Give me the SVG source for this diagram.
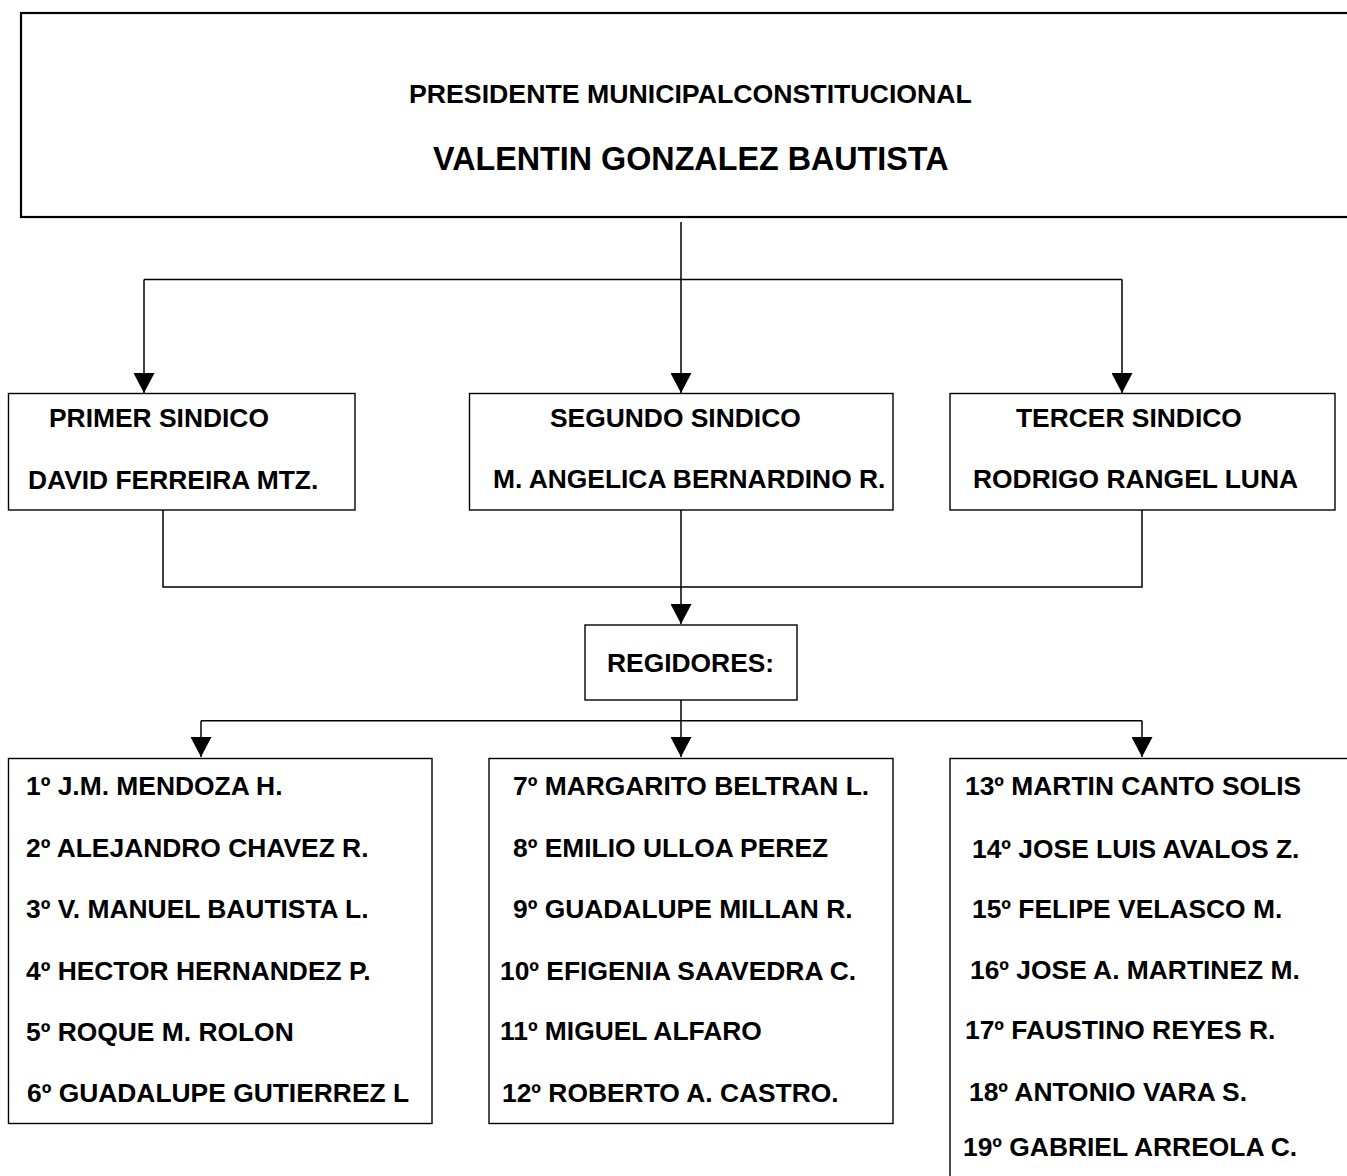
<svg xmlns="http://www.w3.org/2000/svg" width="1347" height="1176" viewBox="0 0 1347 1176">
<style>
.box{fill:#fff;stroke:#000;stroke-width:1.4}
.top{fill:#fff;stroke:#000;stroke-width:2.2}
.ln{fill:none;stroke:#000;stroke-width:1.5}
text{font-family:"Liberation Sans",Arial,sans-serif;font-weight:bold;font-size:26.4px;fill:#000}
.hd{font-size:26.7px}
.big{font-size:32.3px}
</style>
<defs>
<marker id="ah" markerUnits="userSpaceOnUse" viewBox="0 0 20 21" refX="20" refY="10.5" markerWidth="20" markerHeight="21" orient="auto">
<path d="M0,0 L20,10.5 L0,21 Z" fill="#000"/>
</marker>
</defs>
<g id="connectors">
<path class="ln" d="M681,222 V280"/>
<path class="ln" d="M144,279.5 H1122"/>
<path class="ln" d="M144,279.5 V393" marker-end="url(#ah)"/>
<path class="ln" d="M681,279.5 V393" marker-end="url(#ah)"/>
<path class="ln" d="M1122,279.5 V393" marker-end="url(#ah)"/>
<path class="ln" d="M163,510 V587 H1142 V510"/>
<path class="ln" d="M681,510 V624" marker-end="url(#ah)"/>
<path class="ln" d="M681,700 V757" marker-end="url(#ah)"/>
<path class="ln" d="M201,720.7 H1142"/>
<path class="ln" d="M201,720.7 V757" marker-end="url(#ah)"/>
<path class="ln" d="M1142,720.7 V757" marker-end="url(#ah)"/>
</g>
<g id="presidente">
<rect class="top" x="21" y="13" width="1340" height="204"/>
<text class="hd" x="409" y="103">PRESIDENTE MUNICIPALCONSTITUCIONAL</text>
<text class="big" x="433" y="170">VALENTIN GONZALEZ BAUTISTA</text>
</g>
<g id="primer-sindico">
<rect class="box" x="8.5" y="393.5" width="346.5" height="116.5"/>
<text x="49" y="427">PRIMER SINDICO</text>
<text x="28" y="489">DAVID FERREIRA MTZ.</text>
</g>
<g id="segundo-sindico">
<rect class="box" x="469.5" y="393.5" width="423.5" height="116.5"/>
<text x="550" y="427">SEGUNDO SINDICO</text>
<text x="493" y="488">M. ANGELICA BERNARDINO R.</text>
</g>
<g id="tercer-sindico">
<rect class="box" x="950" y="393.5" width="385" height="116.5"/>
<text x="1016" y="427">TERCER SINDICO</text>
<text x="973" y="488">RODRIGO RANGEL LUNA</text>
</g>
<g id="regidores">
<rect class="box" x="585" y="625" width="212" height="75"/>
<text x="607" y="672">REGIDORES:</text>
</g>
<g id="regidores-1-6">
<rect class="box" x="8.5" y="758.5" width="423.5" height="365"/>
<text x="26" y="795">1º J.M. MENDOZA H.</text>
<text x="26" y="857">2º ALEJANDRO CHAVEZ R.</text>
<text x="26" y="918">3º V. MANUEL BAUTISTA L.</text>
<text x="26" y="980">4º HECTOR HERNANDEZ P.</text>
<text x="26" y="1041">5º ROQUE M. ROLON</text>
<text x="27" y="1102">6º GUADALUPE GUTIERREZ L</text>
</g>
<g id="regidores-7-12">
<rect class="box" x="489" y="758.5" width="404" height="365"/>
<text x="513" y="795">7º MARGARITO BELTRAN L.</text>
<text x="513" y="857">8º EMILIO ULLOA PEREZ</text>
<text x="513" y="918">9º GUADALUPE MILLAN R.</text>
<text x="500" y="980">10º EFIGENIA SAAVEDRA C.</text>
<text x="500" y="1040">11º MIGUEL ALFARO</text>
<text x="502" y="1102">12º ROBERTO A. CASTRO.</text>
</g>
<g id="regidores-13-19">
<rect class="box" x="950" y="758.5" width="420" height="440"/>
<text x="965" y="795">13º MARTIN CANTO SOLIS</text>
<text x="972" y="858">14º JOSE LUIS AVALOS Z.</text>
<text x="972" y="918">15º FELIPE VELASCO M.</text>
<text x="970" y="979">16º JOSE A. MARTINEZ M.</text>
<text x="965" y="1039">17º FAUSTINO REYES R.</text>
<text x="969" y="1101">18º ANTONIO VARA S.</text>
<text x="963" y="1156">19º GABRIEL ARREOLA C.</text>
</g>
</svg>
